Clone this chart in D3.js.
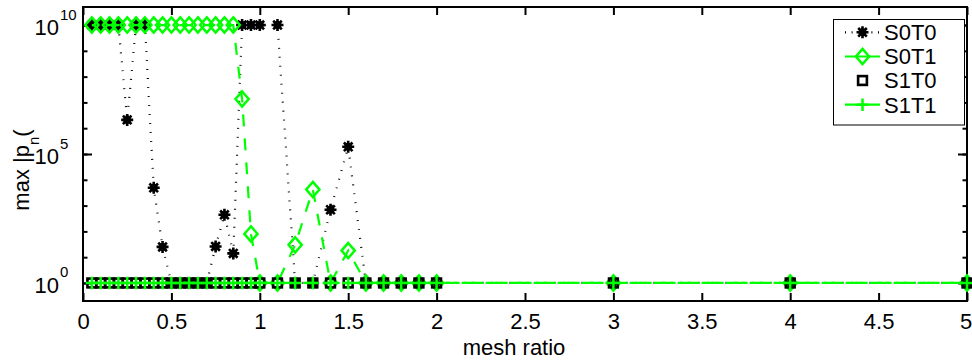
<!DOCTYPE html>
<html>
<head>
<meta charset="utf-8">
<script src="https://cdn.jsdelivr.net/npm/d3@7"></script>
<style>
  body { margin: 0; background: #fff; }
  text { font-family: "Liberation Sans", Arial, Helvetica, sans-serif; fill: #000; }
</style>
</head>
<body>
<svg width="972" height="360"></svg>
<script>
// data
const meshRatio = [0.05, 0.1, 0.15, 0.2, 0.25, 0.3, 0.35, 0.4, 0.45, 0.5,
  0.55, 0.6, 0.65, 0.7, 0.75, 0.8, 0.85, 0.9, 0.95, 1.0,
  1.1, 1.2, 1.3, 1.4, 1.5, 1.6, 1.7, 1.8, 1.9, 2.0,
  3, 4, 5]
const s0t0 = [1e10, 1e10, 1e10, 1e10, 2.1e6, 1e10, 1e10, 4.9e3, 25, 1,
  1, 1, 1, 1, 26, 440, 14, 1e10, 1e10, 1e10,
  1e10, 1, 1, 690, 1.9e5, 1, 1, 1, 1, 1,
  1, 1, 1]
const s0t1 = [1e10, 1e10, 1e10, 1e10, 1e10, 1e10, 1e10, 1e10, 1e10, 1e10,
  1e10, 1e10, 1e10, 1e10, 1e10, 1e10, 1e10, 1.35e7, 80, 1,
  1, 30, 4200, 1, 18, 1, 1, 1, 1, 1,
  1, 1, 1]
const s1t0 = [1, 1, 1, 1, 1, 1, 1, 1, 1, 1,
  1, 1, 1, 1, 1, 1, 1, 1, 1, 1,
  1, 1, 1, 1, 1, 1, 1, 1, 1, 1,
  1, 1, 1]
const s1t1 = [1, 1, 1, 1, 1, 1, 1, 1, 1, 1,
  1, 1, 1, 1, 1, 1, 1, 1, 1, 1,
  1, 1, 1, 1, 1, 1, 1, 1, 1, 1,
  1, 1, 1]
const seriesNames = ['S0T0', 'S0T1', 'S1T0', 'S1T1']
const xTicks = [0, 0.5, 1, 1.5, 2, 2.5, 3, 3.5, 4, 4.5, 5]
const xTickLabels = ['0', '0.5', '1', '1.5', '2', '2.5', '3', '3.5', '4', '4.5', '5']
const yMajor = [1, 1e5, 1e10]
const yMajorExp = ['0', '5', '10']
const yDecades = [1, 1e1, 1e2, 1e3, 1e4, 1e5, 1e6, 1e7, 1e8, 1e9, 1e10]

const box = { left: 83, right: 967, top: 7, bottom: 301 }
const green = '#00ff00'
const fontSize = 22

const svg = d3.select('svg')

const xScale = d3.scaleLinear()
  .domain([0, 5])
  .range([box.left, box.right])

const yScale = d3.scaleLog()
  .domain([0.2, 5e10])
  .range([box.bottom, box.top])

// ticks on all four sides, pointing inwards
function tickGroup(axis, transform) {
  const g = svg.append('g')
    .attr('transform', transform)
    .call(axis)
  g.select('.domain').remove()
  g.selectAll('.tick line').attr('stroke', '#000').attr('stroke-width', 2)
  return g
}

const xAxis = tickGroup(d3.axisBottom(xScale).tickValues(xTicks).tickSize(-8).tickPadding(12)
  .tickFormat((d, i) => xTickLabels[i]), `translate(0,${box.bottom})`)
xAxis.selectAll('text').attr('font-size', fontSize)
// last label sits on the window edge, as in the figure
xAxis.selectAll('.tick:last-of-type text').attr('dx', -1.5)

tickGroup(d3.axisTop(xScale).tickValues(xTicks).tickSize(-8).tickFormat(''), `translate(0,${box.top})`)
tickGroup(d3.axisLeft(yScale).tickValues(yDecades).tickSize(-4.5).tickFormat(''), `translate(${box.left},0)`)
tickGroup(d3.axisLeft(yScale).tickValues(yMajor).tickSize(-9).tickFormat(''), `translate(${box.left},0)`)
tickGroup(d3.axisRight(yScale).tickValues(yDecades).tickSize(-4.5).tickFormat(''), `translate(${box.right},0)`)
tickGroup(d3.axisRight(yScale).tickValues(yMajor).tickSize(-9).tickFormat(''), `translate(${box.right},0)`)

svg.selectAll('g text').attr('font-family', null)

// y tick labels 10^n
const yLab = svg.append('g')
yMajor.forEach((v, i) => {
  const ty = yScale(v)
  yLab.append('text')
    .attr('x', 59).attr('y', ty + 10)
    .attr('text-anchor', 'end')
    .attr('font-size', fontSize)
    .text('10')
  yLab.append('text')
    .attr('x', 60).attr('y', ty - 5.5)
    .attr('font-size', 15)
    .text(yMajorExp[i])
})

// frame
svg.append('rect')
  .attr('x', box.left).attr('y', box.top)
  .attr('width', box.right - box.left)
  .attr('height', box.bottom - box.top)
  .attr('fill', 'none')
  .attr('stroke', '#000')
  .attr('stroke-width', 2)

// axis titles
svg.append('text')
  .attr('x', 514).attr('y', 355)
  .attr('text-anchor', 'middle')
  .attr('font-size', fontSize)
  .text('mesh ratio')

const yTitle = svg.append('text')
  .attr('transform', 'translate(28.5,170) rotate(-90)')
  .attr('text-anchor', 'middle')
  .attr('font-size', fontSize)
yTitle.append('tspan').text('max |p')
yTitle.append('tspan').attr('font-size', 15).attr('dy', 10).text('n')
yTitle.append('tspan').attr('dy', -10).text('(')

// markers
function star(g) {
  g.append('path')
    .attr('d', 'M-6,0H6M0,-6V6M-4.3,-4.3L4.3,4.3M-4.3,4.3L4.3,-4.3')
    .attr('stroke', '#000').attr('stroke-width', 2.6).attr('fill', 'none')
  g.append('circle').attr('r', 4).attr('fill', '#000')
}
function diamond(g) {
  g.append('path')
    .attr('d', 'M0,-7.6L6.6,0L0,7.6L-6.6,0Z')
    .attr('stroke', green).attr('stroke-width', 2.5).attr('fill', 'none')
}
function square(g) {
  g.append('rect')
    .attr('x', -4.4).attr('y', -4.4).attr('width', 8.8).attr('height', 8.8)
    .attr('stroke', '#000').attr('stroke-width', 2.6).attr('fill', 'none')
}
function plus(g) {
  g.append('path')
    .attr('d', 'M-6,0H6M0,-6.3V6.3')
    .attr('stroke', green).attr('stroke-width', 2.5).attr('fill', 'none')
}

const line = d3.line()
  .x((d, i) => xScale(meshRatio[i]))
  .y(d => yScale(d))

function pathLength(values, upTo) {
  let len = 0
  for (let i = 1; i <= upTo; i++) {
    len += Math.hypot(xScale(meshRatio[i]) - xScale(meshRatio[i - 1]),
      yScale(values[i]) - yScale(values[i - 1]))
  }
  return len
}

// the two dashed green lines overlap from 2 to 5; line up their phases
const idx2 = meshRatio.indexOf(2.0)
const mod = (a, n) => ((a % n) + n) % n
const offA = mod(-1 - pathLength(s0t1, idx2), 24)
const offB = mod(-11 - pathLength(s1t1, idx2), 24)

const series = [
  { values: s0t0, marker: star, stroke: '#000', width: 2.2, dash: '0.9,8.1', off: 0, showLine: true },
  { values: s0t1, marker: diamond, stroke: green, width: 2.2, dash: '12,12', off: offA, showLine: true },
  { values: s1t0, marker: square, showLine: false },
  { values: s1t1, marker: plus, stroke: green, width: 2.2, dash: '12,12', off: offB, showLine: true }
]

series.forEach(s => {
  const g = svg.append('g')
  if (s.showLine) {
    g.append('path')
      .datum(s.values)
      .attr('d', line)
      .attr('fill', 'none')
      .attr('stroke', s.stroke)
      .attr('stroke-width', s.width)
      .attr('stroke-dasharray', s.dash)
      .attr('stroke-dashoffset', s.off)
  }
  g.selectAll('g.m')
    .data(s.values)
    .enter()
    .append('g')
    .attr('class', 'm')
    .attr('transform', (d, i) => `translate(${xScale(meshRatio[i])},${yScale(d)})`)
    .each(function () { s.marker(d3.select(this)) })
})

// legend
const legend = svg.append('g')
legend.append('rect')
  .attr('x', 833.5).attr('y', 19.5)
  .attr('width', 131).attr('height', 105.5)
  .attr('fill', '#fff')
  .attr('stroke', '#000')
  .attr('stroke-width', 1)

const legendRows = [32.3, 56.5, 80.5, 104.7]
series.forEach((s, i) => {
  const ry = legendRows[i]
  if (s.showLine) {
    legend.append('line')
      .attr('x1', 845).attr('x2', 880)
      .attr('y1', ry).attr('y2', ry)
      .attr('stroke', s.stroke)
      .attr('stroke-width', s.width)
      .attr('stroke-dasharray', i === 0 ? '1,5.6' : null)
  }
  const mg = legend.append('g').attr('transform', `translate(862.5,${ry})`)
  s.marker(mg)
  legend.append('text')
    .attr('x', 884).attr('y', ry + 7.8)
    .attr('font-size', fontSize)
    .text(seriesNames[i])
})
</script>
</body>
</html>
